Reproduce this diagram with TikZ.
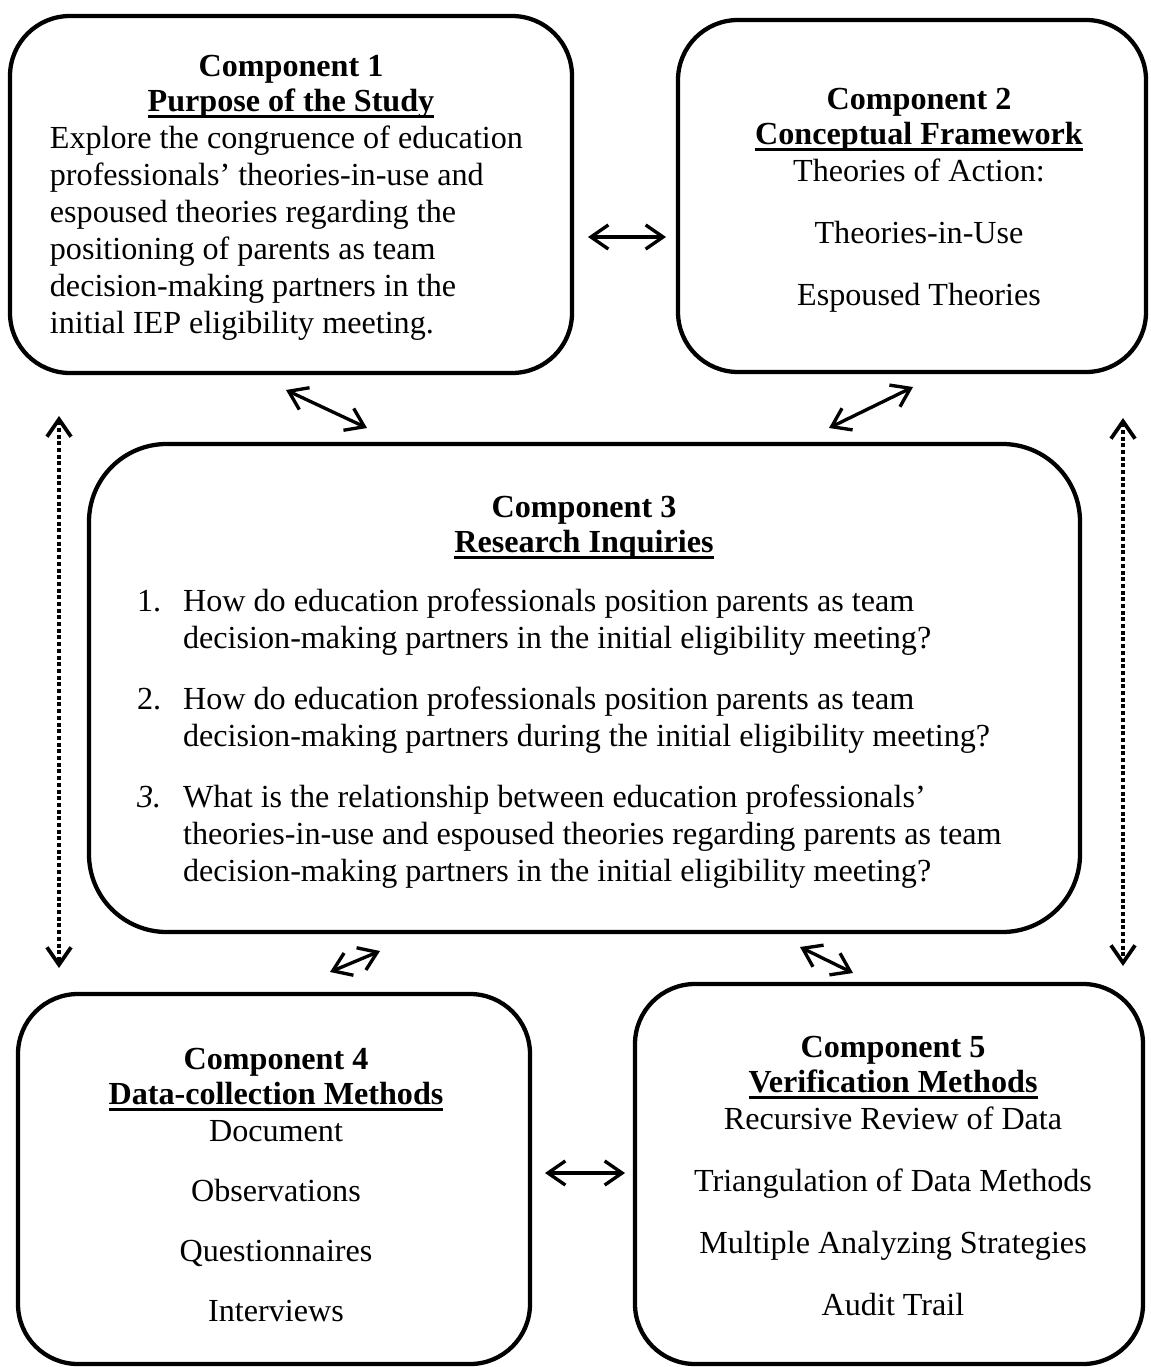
\documentclass[tikz,border=0pt]{standalone}
\usepackage{fontspec}
\setmainfont{Liberation Serif}
\usepackage{array}
\usetikzlibrary{arrows.meta}
\newcommand{\uheading}[1]{\setbox0\hbox{#1}\rlap{\rule[-2.2pt]{\wd0}{1.1pt}}\box0}
\tikzset{
	boxstyle/.style={rectangle,draw=black,line width=1.6pt,rounded corners=22.4pt},
	textstyle/.style={inner sep=0pt,align=center,anchor=north,font=\fontsize{12}{13.8}\selectfont},
	linkstyle/.style={{Straight Barb[length=6.5pt,width=9pt]}-{Straight Barb[length=6.5pt,width=9pt]},line width=1.25pt},
	dotstyle/.style={linkstyle,line width=1.4pt,dash pattern=on 1.5pt off 1pt}
}
\begin{document}
\begin{tikzpicture}[x=0.3733pt,y=-0.3733pt]
	\useasboundingbox (0,0) rectangle (1150,1367);
	\node[boxstyle,minimum width=562*0.3733pt,minimum height=357*0.3733pt] (c1) at (291,194.5) {};
	\node[boxstyle,minimum width=468*0.3733pt,minimum height=352*0.3733pt] (c2) at (912,196) {};
	\node[boxstyle,rounded corners=29pt,minimum width=991*0.3733pt,minimum height=488*0.3733pt] (c3) at (584.5,688) {};
	\node[boxstyle,minimum width=512*0.3733pt,minimum height=370*0.3733pt] (c4) at (274,1179) {};
	\node[boxstyle,minimum width=508*0.3733pt,minimum height=380*0.3733pt] (c5) at (889,1174) {};
	\node[textstyle] (t1) at (291,55) {\textbf{Component 1}\\[-0.7pt]
		\textbf{\uheading{Purpose of the Study}}\\
		\begin{tabular}[t]{@{}p{180pt}@{}}
		Explore the congruence of education\\
		professionals' theories-in-use and\\
		espoused theories regarding the\\
		positioning of parents as team\\
		decision-making partners in the\\
		initial IEP eligibility meeting.
		\end{tabular}};
	\node[textstyle] (t2) at (919,88) {\textbf{Component 2}\\[-0.7pt]
		\textbf{\uheading{Conceptual Framework}}\\
		Theories of Action:\\[9.3pt]
		Theories-in-Use\\[9.3pt]
		Espoused Theories};
	\node[textstyle] (t3) at (584,496) {\textbf{Component 3}\\[-0.7pt]
		\textbf{\uheading{Research Inquiries}}\\[8.2pt]
		\begin{tabular}[t]{@{}p{17.2pt}@{}p{316.5pt}@{}}
		1. & How do education professionals position parents as team\\
		& decision-making partners in the initial eligibility meeting?\\[9pt]
		2. & How do education professionals position parents as team\\
		& decision-making partners during the initial eligibility meeting?\\[9pt]
		\textit{3.} & What is the relationship between education professionals'\\
		& theories-in-use and espoused theories regarding parents as team\\
		& decision-making partners in the initial eligibility meeting?
		\end{tabular}};
	\node[textstyle] (t4) at (276,1048) {\textbf{Component 4}\\[-0.7pt]
		\textbf{\uheading{Data-collection Methods}}\\
		Document\\[8.6pt]
		Observations\\[8.6pt]
		Questionnaires\\[8.6pt]
		Interviews};
	\node[textstyle] (t5) at (893,1036) {\textbf{Component 5}\\[-0.7pt]
		\textbf{\uheading{Verification Methods}}\\
		Recursive Review of Data\\[9.3pt]
		Triangulation of Data Methods\\[9.3pt]
		Multiple Analyzing Strategies\\[9.3pt]
		Audit Trail};
	\coordinate (a12) at (588,237);
	\coordinate (b12) at (666,237);
	\coordinate (a13) at (286,390);
	\coordinate (b13) at (367,428);
	\coordinate (a23) at (913,387);
	\coordinate (b23) at (829,428);
	\coordinate (a34) at (330,972);
	\coordinate (b34) at (380,951);
	\coordinate (a35) at (800,947);
	\coordinate (b35) at (853,973);
	\coordinate (a45) at (545,1173);
	\coordinate (b45) at (625,1173);
	\coordinate (l1) at (59,416);
	\coordinate (l2) at (59,968);
	\coordinate (r1) at (1123,418);
	\coordinate (r2) at (1123,966);
	\draw[linkstyle] (a12)--(b12);
	\draw[linkstyle] (a13)--(b13);
	\draw[linkstyle] (a23)--(b23);
	\draw[linkstyle] (a34)--(b34);
	\draw[linkstyle] (a35)--(b35);
	\draw[linkstyle] (a45)--(b45);
	\draw[dotstyle] (l1)--(l2);
	\draw[dotstyle] (r1)--(r2);
\end{tikzpicture}
\end{document}
